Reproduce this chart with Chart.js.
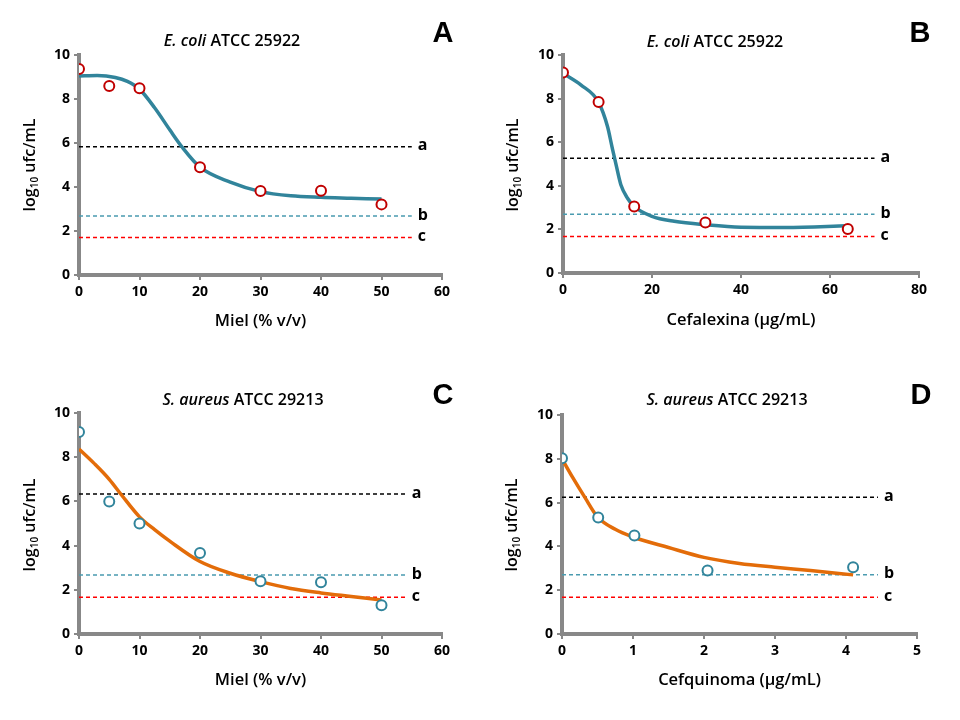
<!DOCTYPE html>
<html>
<head>
<meta charset="utf-8">
<script src="https://cdn.jsdelivr.net/npm/chart.js@4.4.1/dist/chart.umd.min.js"></script>
<style>
  html, body { margin:0; padding:0; background:#fff; }
  #wrap { position:relative; width:960px; height:720px; }
  #wrap canvas { position:absolute; }
</style>
</head>
<body>
<div id="wrap">
  <canvas id="chartA" width="480" height="360" style="left:0;top:0"></canvas>
  <canvas id="chartB" width="480" height="360" style="left:480px;top:0"></canvas>
  <canvas id="chartC" width="480" height="360" style="left:0;top:360px"></canvas>
  <canvas id="chartD" width="480" height="360" style="left:480px;top:360px"></canvas>
</div>
<script>
// ---- data
// A : E. coli / miel
const aDose   = [0, 5, 10, 20, 30, 40, 50];
const aLog    = [9.36, 8.59, 8.49, 4.9, 3.82, 3.83, 3.21];
const aFitX   = [0, 3, 6, 8, 10, 12.5, 15, 17, 20, 25, 30, 35, 40, 45, 50];
const aFitY   = [9.05, 9.07, 8.98, 8.8, 8.45, 7.6, 6.6, 5.83, 4.9, 4.22, 3.79, 3.6, 3.53, 3.49, 3.45];
const aLimits = [5.83, 2.68, 1.7];

// B : E. coli / cefalexina
const bDose   = [0, 8, 16, 32, 64];
const bLog    = [9.2, 7.84, 3.05, 2.32, 2.02];
const bFitX   = [0, 4, 8, 10, 11, 12, 13, 14.5, 16, 20, 25, 32, 40, 50, 64];
const bFitY   = [9.16, 8.63, 7.83, 6.72, 5.8, 4.9, 4.05, 3.43, 3.05, 2.6, 2.37, 2.21, 2.1, 2.09, 2.17];
const bLimits = [5.26, 2.69, 1.68];

// C : S. aureus / miel
const cDose   = [0, 5, 10, 20, 30, 40, 50];
const cLog    = [9.14, 6.0, 5.0, 3.66, 2.39, 2.34, 1.3];
const cFitX   = [0, 2.5, 5, 7, 10, 12.5, 15, 20, 25, 30, 35, 40, 45, 50];
const cFitY   = [8.37, 7.72, 7.0, 6.3, 5.3, 4.72, 4.2, 3.28, 2.75, 2.37, 2.06, 1.86, 1.7, 1.54];
const cLimits = [6.33, 2.67, 1.66];

// D : S. aureus / cefquinoma
const dDose   = [0, 0.51, 1.02, 2.05, 4.1];
const dLog    = [8.02, 5.32, 4.5, 2.9, 3.05];
const dFitX   = [0, 0.15, 0.32, 0.5, 0.75, 1, 1.5, 2, 2.5, 3, 3.5, 4.1];
const dFitY   = [8.0, 7.15, 6.25, 5.35, 4.78, 4.43, 3.95, 3.5, 3.22, 3.05, 2.9, 2.7];
const dLimits = [6.25, 2.7, 1.68];

const limitNames = ['a', 'b', 'c'];

// ---- colours
const TEAL   = '#31849B';
const RED    = '#C00000';
const ORANGE = '#E36C09';
const AXIS   = '#888888';
const limitColors = ['#000000', '#4A9BB0', '#FF0000'];
const FONT = '"Open Sans", "Liberation Sans", sans-serif';

const zip = (xs, ys) => xs.map((x, i) => ({x: x, y: ys[i]}));

// draws titles, panel letter, axis titles and a/b/c labels
const decor = {
  id: 'decor',
  afterDraw(chart, args, o) {
    const ctx = chart.ctx, area = chart.chartArea;
    const xs = chart.scales.x, ys = chart.scales.y;
    ctx.save();
    ctx.fillStyle = '#000';

    // title: italic species + normal strain
    ctx.textBaseline = 'middle';
    const fIt = 'italic 600 16px ' + FONT, fNo = '600 16px ' + FONT;
    ctx.font = fIt; const w1 = ctx.measureText(o.species).width;
    ctx.font = fNo; const w2 = ctx.measureText(' ' + o.strain).width;
    let tx = o.titleX - (w1 + w2) / 2;
    ctx.textAlign = 'left';
    ctx.font = fIt; ctx.fillText(o.species, tx, o.titleY);
    ctx.font = fNo; ctx.fillText(' ' + o.strain, tx + w1, o.titleY);

    // panel letter
    ctx.textAlign = 'center';
    ctx.font = 'bold 29px Arial, "Liberation Sans", sans-serif';
    ctx.fillText(o.letter, o.letterX, o.letterY);

    // x axis title
    ctx.font = '600 16.5px ' + FONT;
    ctx.fillText(o.xTitle, (area.left + area.right) / 2, o.xTitleY);

    // y axis title log10 ufc/mL
    ctx.translate(o.yTitleX, o.yTitleY);
    ctx.rotate(-Math.PI / 2);
    ctx.textAlign = 'left';
    ctx.font = '600 16px ' + FONT;
    const p1 = 'log', p3 = ' ufc/mL';
    const wa = ctx.measureText(p1).width, wc = ctx.measureText(p3).width;
    ctx.font = '600 10px ' + FONT;
    const wb = ctx.measureText('10').width;
    let yx = -(wa + wb + wc) / 2;
    ctx.font = '600 16px ' + FONT; ctx.fillText(p1, yx, 0);
    ctx.font = '600 10px ' + FONT; ctx.fillText('10', yx + wa, 5);
    ctx.font = '600 16px ' + FONT; ctx.fillText(p3, yx + wa + wb, 0);
    ctx.restore();

    // a / b / c labels
    ctx.save();
    ctx.fillStyle = '#000';
    ctx.font = 'bold 16px ' + FONT;
    ctx.textAlign = 'left';
    ctx.textBaseline = 'middle';
    o.limits.forEach((v, i) => {
      ctx.fillText(limitNames[i], xs.getPixelForValue(o.limitEnd) + 6, ys.getPixelForValue(v) - 1);
    });
    ctx.restore();
  }
};

function makePanel(id, p) {
  const datasets = [
    {
      type: 'scatter', data: zip(p.dose, p.log),
      pointRadius: 5, pointBorderWidth: 2, pointBackgroundColor: '#fff',
      pointBorderColor: p.pointColor, showLine: false
    },
    {
      type: 'line', data: zip(p.fitX, p.fitY),
      borderColor: p.curveColor, borderWidth: 3.5, pointRadius: 0,
      cubicInterpolationMode: 'monotone', fill: false
    }
  ];
  p.limits.forEach((v, i) => {
    datasets.push({
      type: 'line', data: [{x: 0, y: v}, {x: p.limitEnd, y: v}],
      borderColor: limitColors[i], borderWidth: 1.5, borderDash: [4, 3],
      pointRadius: 0, fill: false
    });
  });

  const axisCommon = {
    type: 'linear', min: 0,
    grid: { display: true, drawOnChartArea: false, drawTicks: true, tickLength: 5, color: AXIS, lineWidth: 2 },
    border: { display: true, color: AXIS, width: 4 },
    ticks: { color: '#000', font: { family: FONT, size: 14, weight: 'bold' }, padding: 4 }
  };

  new Chart(document.getElementById(id), {
    data: { datasets: datasets },
    options: {
      responsive: false,
      animation: false,
      devicePixelRatio: 1,
      layout: { padding: p.pad },
      plugins: {
        legend: { display: false },
        tooltip: { enabled: false },
        decor: p.decor
      },
      scales: {
        x: Object.assign({}, axisCommon, {
          max: p.xMax, ticks: Object.assign({}, axisCommon.ticks, { stepSize: p.xStep }),
          afterFit: s => { s.height = 40; }
        }),
        y: Object.assign({}, axisCommon, {
          max: 10, ticks: Object.assign({}, axisCommon.ticks, { stepSize: 2 }),
          afterFit: s => { s.width = 40; }
        })
      }
    },
    plugins: [decor]
  });
}

makePanel('chartA', {
  dose: aDose, log: aLog, fitX: aFitX, fitY: aFitY, limits: aLimits, limitEnd: 55,
  xMax: 60, xStep: 10, pointColor: RED, curveColor: TEAL,
  pad: { left: 39, top: 55, right: 38, bottom: 45 },
  decor: { species: 'E. coli', strain: 'ATCC 25922', letter: 'A', xTitle: 'Miel (% v/v)',
           titleX: 232, titleY: 41, letterX: 443, letterY: 34, xTitleY: 321,
           yTitleX: 30, yTitleY: 165, limits: aLimits, limitEnd: 55 }
});

makePanel('chartB', {
  dose: bDose, log: bLog, fitX: bFitX, fitY: bFitY, limits: bLimits, limitEnd: 70,
  xMax: 80, xStep: 20, pointColor: RED, curveColor: TEAL,
  pad: { left: 43, top: 55, right: 41, bottom: 47 },
  decor: { species: 'E. coli', strain: 'ATCC 25922', letter: 'B', xTitle: 'Cefalexina (\u00b5g/mL)',
           titleX: 235, titleY: 42, letterX: 440, letterY: 34, xTitleY: 320,
           yTitleX: 33, yTitleY: 165, limits: bLimits, limitEnd: 70 }
});

makePanel('chartC', {
  dose: cDose, log: cLog, fitX: cFitX, fitY: cFitY, limits: cLimits, limitEnd: 54,
  xMax: 60, xStep: 10, pointColor: TEAL, curveColor: ORANGE,
  pad: { left: 39, top: 53, right: 38, bottom: 46 },
  decor: { species: 'S. aureus', strain: 'ATCC 29213', letter: 'C', xTitle: 'Miel (% v/v)',
           titleX: 243, titleY: 40, letterX: 443, letterY: 36, xTitleY: 320,
           yTitleX: 30, yTitleY: 165, limits: cLimits, limitEnd: 54 }
});

makePanel('chartD', {
  dose: dDose, log: dLog, fitX: dFitX, fitY: dFitY, limits: dLimits, limitEnd: 4.45,
  xMax: 5, xStep: 1, pointColor: TEAL, curveColor: ORANGE,
  pad: { left: 42, top: 55, right: 43, bottom: 46 },
  decor: { species: 'S. aureus', strain: 'ATCC 29213', letter: 'D', xTitle: 'Cefquinoma (\u00b5g/mL)',
           titleX: 247, titleY: 40, letterX: 441, letterY: 36, xTitleY: 320,
           yTitleX: 32, yTitleY: 165, limits: dLimits, limitEnd: 4.45 }
});
</script>
</body>
</html>
